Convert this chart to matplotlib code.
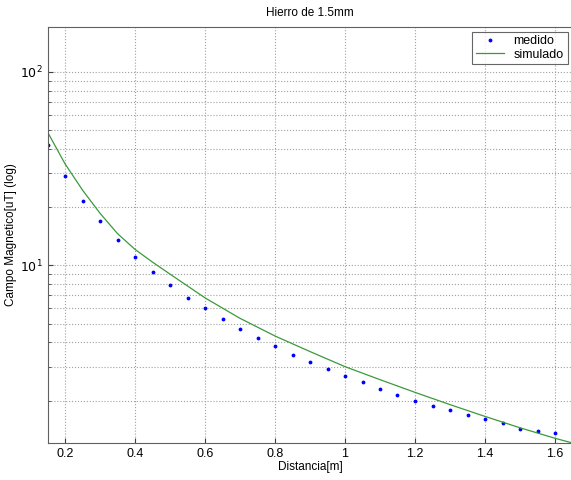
import numpy as np
import matplotlib
matplotlib.use("Agg")
from matplotlib import pyplot as plt

x_med = [0.15, 0.2, 0.25, 0.3, 0.35, 0.4, 0.45, 0.5, 0.55, 0.6,
         0.65, 0.7, 0.75, 0.8, 0.85, 0.9, 0.95, 1.0, 1.05, 1.1,
         1.15, 1.2, 1.25, 1.3, 1.35, 1.4, 1.45, 1.5, 1.55, 1.6]
y_med = [41.7, 29.0, 21.6, 16.9, 13.5, 11.1, 9.24, 7.91, 6.81, 6.00,
         5.27, 4.70, 4.22, 3.82, 3.46, 3.18, 2.91, 2.70, 2.50, 2.31,
         2.14, 2.00, 1.89, 1.80, 1.68, 1.61, 1.53, 1.43, 1.39, 1.36]

# simulated curve
x_sim = [0.15, 0.2, 0.25, 0.3, 0.35, 0.4, 0.45, 0.5, 0.6, 0.7, 0.8,
         0.9, 1.0, 1.1, 1.2, 1.3, 1.4, 1.5, 1.6, 1.65]
y_sim = [48.9, 33.5, 24.5, 18.6, 14.6, 12.1, 10.4, 9.02, 6.8, 5.33, 4.32,
         3.59, 3.00, 2.57, 2.21, 1.91, 1.66, 1.45, 1.28, 1.21]

x_ticks = [0.2, 0.4, 0.6, 0.8, 1.0, 1.2, 1.4, 1.6]
x_tick_labels = ["0.2", "0.4", "0.6", "0.8", "1", "1.2", "1.4", "1.6"]

plt.rcParams['font.family'] = ['Liberation Sans', 'DejaVu Sans']

fig = plt.figure(figsize=(5.71, 4.8), dpi=100)
ax = fig.add_axes([47.5 / 571, 37 / 480, 525 / 571, 416.3 / 480])

ax.semilogy(x_med, y_med, '.', color='#0000ff', markersize=3.5, label='medido')
ax.semilogy(x_sim, y_sim, '-', color='#3a9a3a', linewidth=0.9, label='simulado')

ax.set_xlim(0.15, 1.65)
ax.set_ylim(1.21, 171)
ax.set_xticks(x_ticks)
ax.set_xticklabels(x_tick_labels)
ax.set_yticks([10, 100])
ax.set_yticklabels([r'$10^1$', r'$10^2$'])

ax.grid(True, which='both', linestyle=':', color='#a0a0a0', linewidth=0.8)
ax.tick_params(which='both', direction='in', labelsize=9, color='#404040')
ax.tick_params(which='minor', labelleft=False)
for s in ax.spines.values():
    s.set_color('#606060')

ax.set_title('Hierro de 1.5mm', fontsize=8.5, pad=8)
ax.set_xlabel('Distancia[m]', fontsize=8.5, labelpad=1)
ax.set_ylabel('Campo Magnetico[uT] (log)', fontsize=8.5, labelpad=2)

leg = ax.legend(loc='upper right', fontsize=9, fancybox=False, edgecolor='#404040',
                borderpad=0.3, handlelength=2.2, labelspacing=0.1, borderaxespad=0.4)
leg.get_frame().set_linewidth(0.8)

fig.savefig('out.png', dpi=100)
